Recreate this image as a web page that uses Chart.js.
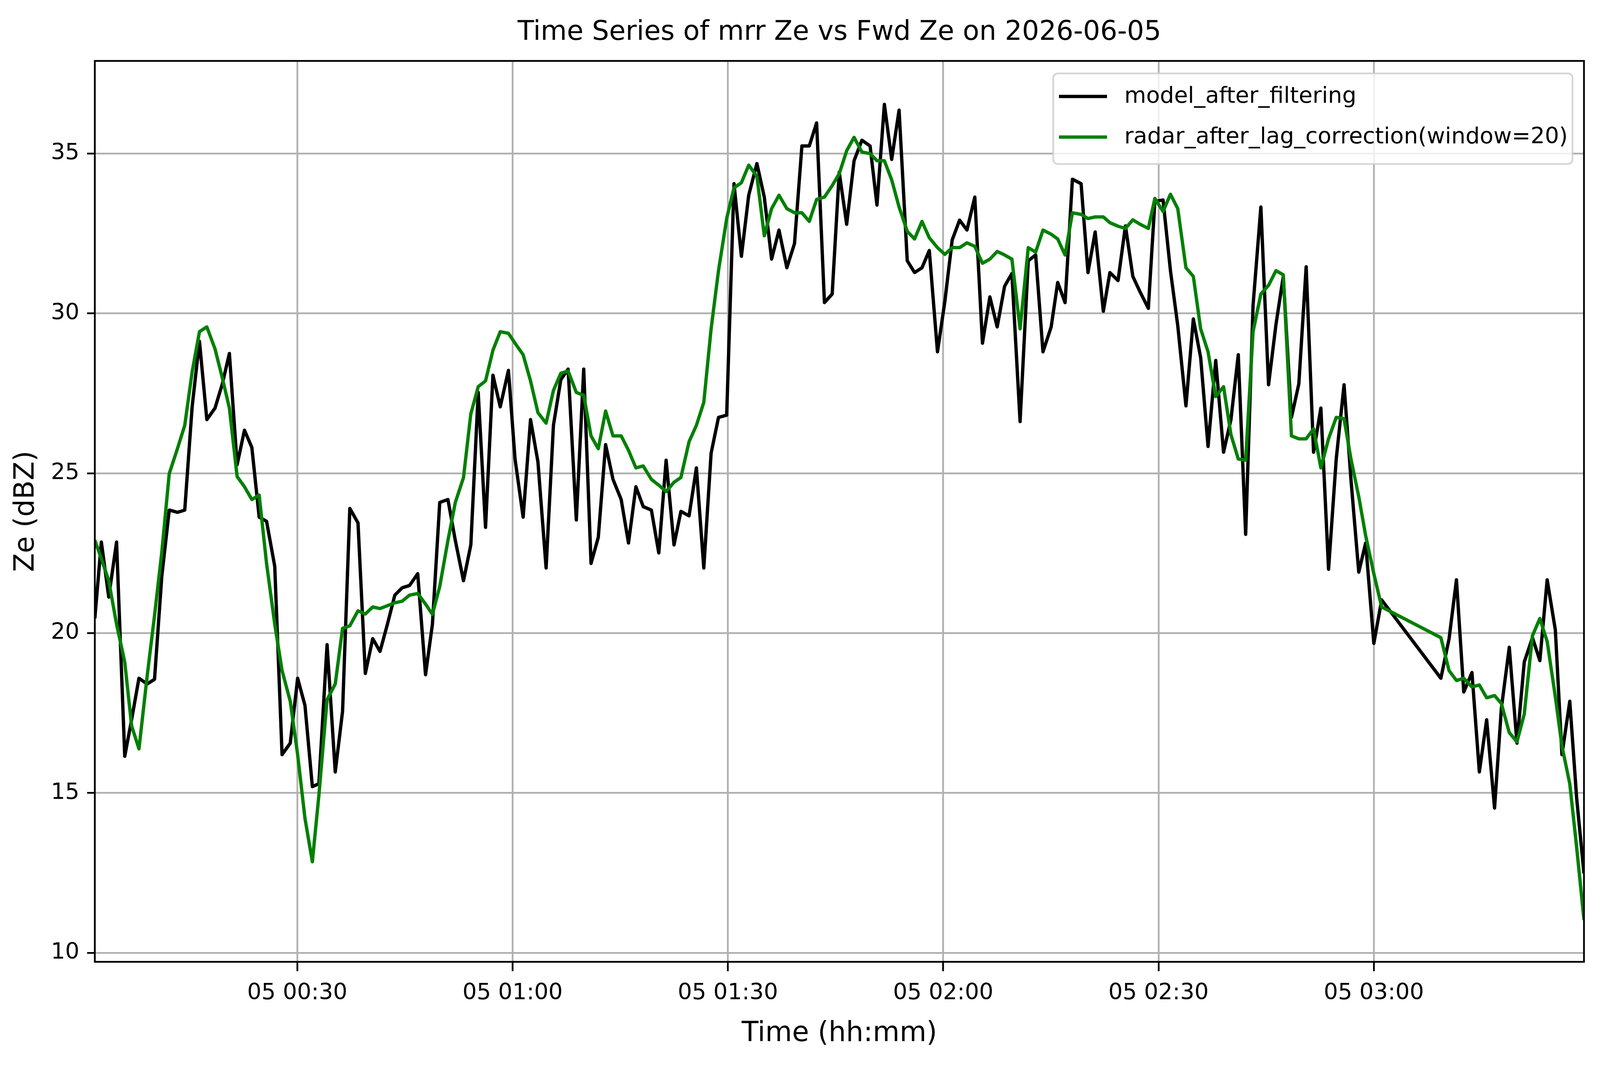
<!DOCTYPE html>
<html>
<head>
<meta charset="utf-8">
<title>Time Series of mrr Ze vs Fwd Ze</title>
<script src="https://cdn.jsdelivr.net/npm/chart.js@4.4.1/dist/chart.umd.min.js"></script>
<style>
  html, body { margin: 0; padding: 0; background: #ffffff; overflow: hidden; }
  canvas { display: block; }
</style>
</head>
<body>
<canvas id="zeChart"></canvas>
<script>
// time axis: minutes after 00:00 on 2026-06-05 (gap around 03:01-03:09 is in the data)
const timeMinutes = [
  1.79, 2.70, 3.73, 4.82, 5.96, 6.92, 7.94, 9.08, 10.11, 11.13, 12.16, 13.30, 14.32, 15.35, 16.37, 17.40, 18.54,
  19.56, 20.54, 21.62, 22.64, 23.67, 24.69, 25.72, 26.86, 27.88, 29.02, 30.05, 31.07, 32.10, 33.01, 34.15, 35.29, 36.31,
  37.32, 38.46, 39.48, 40.51, 41.53, 42.56, 43.59, 44.61, 45.64, 46.78, 47.87, 48.83, 49.85, 50.99, 52.02, 53.16, 54.18,
  55.21, 56.23, 57.26, 58.28, 59.42, 60.34, 61.47, 62.50, 63.53, 64.67, 65.69, 66.72, 67.74, 68.88, 69.91, 70.93,
  71.94, 72.96, 73.99, 75.13, 76.15, 77.18, 78.20, 79.34, 80.37, 81.39, 82.49, 83.45, 84.59, 85.61, 86.64, 87.66, 88.69,
  89.83, 90.85, 91.88, 92.90, 94.04, 95.07, 96.09, 97.12, 98.21, 99.28, 100.31, 101.34, 102.36, 103.45, 104.53, 105.51,
  106.55, 107.58, 108.67, 109.81, 110.77, 111.80, 112.82, 113.85, 114.99, 116.01, 117.04, 118.06, 119.20, 120.23,
  121.25, 122.28, 123.31, 124.40, 125.47, 126.50, 127.52, 128.55, 129.57, 130.71, 131.85, 132.88, 133.90, 135.04,
  135.95, 136.98, 138.00, 139.21, 140.17,
  141.17, 142.31, 143.22, 144.36, 145.39, 146.42, 147.44, 148.58, 149.49, 150.63, 151.66, 152.68, 153.82, 154.85,
  155.87, 156.90, 157.97, 159.06, 160.09, 161.11, 162.14, 163.17, 164.26, 165.33, 166.36, 167.38, 168.52, 169.55,
  170.57, 171.60, 172.62, 173.69,
  174.76, 175.85, 176.81, 177.90, 178.86, 180.00, 181.09, 189.34, 190.48, 191.51, 192.53, 193.67, 194.70, 195.72,
  196.82, 197.77, 198.87, 199.94, 200.96, 202.10, 203.13, 204.15, 205.29, 206.21, 207.30, 208.26, 209.28
];

const modelAfterFiltering = [
  20.46, 22.85, 21.13, 22.85, 16.15, 17.3, 18.59, 18.41, 18.56, 21.8, 23.85, 23.78, 23.85, 27.08, 29.13, 26.68, 27.04,
  27.8, 28.75, 25.27, 26.35, 25.81, 23.63, 23.5, 22.09, 16.2, 16.56, 18.59, 17.74, 15.2, 15.29, 19.64, 15.66, 17.56,
  23.9, 23.45, 18.74, 19.83, 19.43, 20.28, 21.19, 21.42, 21.49, 21.86, 18.7, 20.28, 24.09, 24.18, 22.9, 21.64, 22.76,
  27.53, 23.31, 28.07, 27.08, 28.22, 25.45, 23.63, 26.68, 25.36, 22.04, 26.5, 27.93, 28.26, 23.54, 28.26, 22.18,
  23.0, 25.9, 24.81, 24.18, 22.82, 24.58, 23.96, 23.85, 22.51, 25.41, 22.76, 23.81, 23.67, 25.17, 22.04, 25.63, 26.75,
  26.82, 34.06, 31.79, 33.7, 34.69, 33.64, 31.70, 32.61, 31.43, 32.19, 35.24, 35.24, 35.96, 30.34, 30.61, 34.42,
  32.79, 34.78, 35.42, 35.24, 33.39, 36.54, 34.82, 36.36, 31.65, 31.28, 31.43, 31.97, 28.8, 30.38,
  32.3, 32.92, 32.61, 33.64, 29.07, 30.52, 29.58, 30.85, 31.25, 26.62, 31.65, 31.83, 28.8, 29.58,
  30.97, 30.34, 34.2, 34.06, 31.28,
  32.55, 30.07, 31.28, 31.03, 32.74, 31.16, 30.67, 30.16, 33.51, 33.55, 31.34, 29.62, 27.11, 29.83,
  28.62, 25.84, 28.53, 25.66, 26.68, 28.71, 23.09, 30.25, 33.33, 27.77, 29.65, 31.16, 26.75, 27.8,
  31.46, 25.66, 27.04, 22.0,
  25.45, 27.77, 24.81, 21.91, 22.82, 19.68, 21.04, 18.59, 19.82, 21.67, 18.16, 18.77, 15.66, 17.29,
  14.53, 17.65, 19.56, 16.56, 19.1, 19.86, 19.14, 21.67, 20.1, 16.2, 17.87, 14.84, 12.48
];

const radarAfterLagCorrection = [
  22.91, 22.33, 21.64, 20.28, 19.1, 17.1, 16.38, 18.65, 20.55, 22.55, 24.99, 25.77, 26.5, 28.17, 29.43, 29.58, 28.89,
  27.98, 27.04, 24.9, 24.58, 24.18, 24.32, 22.18, 20.28, 18.83, 17.87, 16.2, 14.21, 12.85, 14.93, 17.92, 18.41, 20.15,
  20.23, 20.7, 20.6, 20.82, 20.77, 20.86, 20.95, 21.0, 21.19, 21.24, 20.91, 20.59, 21.46, 22.9, 24.09, 24.87, 26.86,
  27.71, 27.89, 28.85, 29.43, 29.38, 29.07, 28.71, 27.89, 26.9, 26.57, 27.59, 28.13, 28.2, 27.53, 27.44, 26.17,
  25.77, 26.95, 26.17, 26.17, 25.72, 25.17, 25.23, 24.81, 24.63, 24.43, 24.72, 24.87, 25.99, 26.5, 27.22, 29.52, 31.34,
  32.97, 33.93, 34.09, 34.64, 34.29, 32.43, 33.28, 33.7, 33.28, 33.15, 33.15, 32.88, 33.57, 33.64, 34.0, 34.37,
  35.09, 35.51, 35.05, 35.0, 34.78, 34.78, 34.18, 33.33, 32.57, 32.33, 32.88, 32.37, 32.06, 31.85,
  32.06, 32.06, 32.21, 32.1, 31.57, 31.7, 31.94, 31.83, 31.7, 29.52, 32.06, 31.92, 32.61, 32.48,
  32.33, 31.83, 33.15, 33.1, 32.97,
  33.02, 33.02, 32.84, 32.73, 32.66, 32.93, 32.79, 32.66, 33.6, 33.19, 33.73, 33.28, 31.43, 31.16,
  29.52, 28.8, 27.4, 27.71, 26.21, 25.45, 25.41, 29.43, 30.61, 30.88, 31.34, 31.21, 26.17, 26.08,
  26.08, 26.39, 25.17, 26.08,
  26.75, 26.71, 25.45, 24.27, 23.05, 21.86, 20.82, 19.86, 18.83, 18.52, 18.59, 18.32, 18.38, 17.98,
  18.05, 17.8, 16.89, 16.6, 17.47, 19.92, 20.46, 19.74, 18.01, 16.47, 15.29, 13.3, 11.03
];

const xTickMinutes = [30, 60, 90, 120, 150, 180];
const xTickLabels = ['05 00:30', '05 01:00', '05 01:30', '05 02:00', '05 02:30', '05 03:00'];
const yTicks = [10, 15, 20, 25, 30, 35];
const seriesNames = ['model_after_filtering', 'radar_after_lag_correction(window=20)'];
const seriesColors = ['#000000', '#008000'];
const chartTitle = 'Time Series of mrr Ze vs Fwd Ze on 2026-06-05';

// laid out on a 4995 x 2740 design, stretched to fill whatever viewport we get
const W = window.innerWidth, H = window.innerHeight;
const SX = W / 4995, SY = H / 2740;
const px = (v) => v * SX;   // horizontal sizes, fonts, line widths
const py = (v) => v * SY;   // vertical positions

const FONT = 'DejaVu Sans';
const LINE_W = px(10.4);
const THIN = px(5.5);
const TICK_SIZE = px(70);
const LABEL_SIZE = px(86);

function toPoints(values) {
  return timeMinutes.map((t, i) => ({ x: t, y: values[i] }));
}

// box around the axes, drawn over the lines like matplotlib spines
const framePlugin = {
  id: 'frame',
  afterDatasetsDraw(chart) {
    const { ctx, chartArea: a } = chart;
    ctx.save();
    ctx.strokeStyle = '#000000';
    ctx.lineWidth = THIN;
    ctx.strokeRect(a.left, a.top, a.right - a.left, a.bottom - a.top);
    ctx.restore();
  }
};

const titleLegendPlugin = {
  id: 'titleLegend',
  afterDraw(chart) {
    const { ctx, chartArea: a } = chart;
    ctx.save();
    // title, centred over the axes
    ctx.fillStyle = '#000000';
    ctx.font = px(84) + 'px "' + FONT + '"';
    ctx.textAlign = 'center';
    ctx.textBaseline = 'middle';
    ctx.fillText(chartTitle, (a.left + a.right) / 2, py(84));

    // legend box in the upper right corner
    const bx = px(3288), by = py(188), bw = px(1621), bh = py(232), r = px(14);
    ctx.beginPath();
    ctx.moveTo(bx + r, by);
    ctx.lineTo(bx + bw - r, by);
    ctx.arcTo(bx + bw, by, bx + bw, by + r, r);
    ctx.lineTo(bx + bw, by + bh - r);
    ctx.arcTo(bx + bw, by + bh, bx + bw - r, by + bh, r);
    ctx.lineTo(bx + r, by + bh);
    ctx.arcTo(bx, by + bh, bx, by + bh - r, r);
    ctx.lineTo(bx, by + r);
    ctx.arcTo(bx, by, bx + r, by, r);
    ctx.closePath();
    ctx.fillStyle = 'rgba(255,255,255,0.8)';
    ctx.fill();
    ctx.strokeStyle = 'rgba(204,204,204,0.8)';
    ctx.lineWidth = THIN;
    ctx.stroke();

    const rowY = [248, 352];
    ctx.font = TICK_SIZE + 'px "' + FONT + '"';
    ctx.textAlign = 'left';
    seriesNames.forEach((name, i) => {
      ctx.strokeStyle = seriesColors[i];
      ctx.lineWidth = LINE_W;
      ctx.beginPath();
      ctx.moveTo(px(3306), py(rowY[i] - 1));
      ctx.lineTo(px(3456), py(rowY[i] - 1));
      ctx.stroke();
      ctx.fillStyle = '#000000';
      ctx.fillText(name, px(3510), py(rowY[i]));
    });
    ctx.restore();
  }
};

const tickFont = { family: FONT, size: TICK_SIZE, lineHeight: 1.2 };
const labelFont = { family: FONT, size: LABEL_SIZE, lineHeight: 1.2 };

const canvas = document.getElementById('zeChart');
canvas.width = W;
canvas.height = H;

new Chart(canvas, {
  type: 'line',
  data: {
    datasets: [
      {
        label: seriesNames[0],
        data: toPoints(modelAfterFiltering),
        borderColor: seriesColors[0],
        borderWidth: LINE_W,
        pointRadius: 0,
        tension: 0,
        fill: false,
        borderJoinStyle: 'round',
        clip: 0,
        order: 2
      },
      {
        label: seriesNames[1],
        data: toPoints(radarAfterLagCorrection),
        borderColor: seriesColors[1],
        borderWidth: LINE_W,
        pointRadius: 0,
        tension: 0,
        fill: false,
        borderJoinStyle: 'round',
        clip: 0,
        order: 1
      }
    ]
  },
  options: {
    responsive: false,
    animation: false,
    devicePixelRatio: window.devicePixelRatio || 1,
    layout: { padding: { top: py(156), right: px(50), left: 0, bottom: 0 } },
    plugins: {
      legend: { display: false },
      title: { display: false },
      tooltip: { enabled: false }
    },
    scales: {
      x: {
        type: 'linear',
        min: timeMinutes[0],
        max: timeMinutes[timeMinutes.length - 1],
        afterBuildTicks: (scale) => { scale.ticks = xTickMinutes.map(v => ({ value: v })); },
        afterFit: (scale) => { scale.height = H - py(2463); },
        ticks: {
          font: tickFont,
          color: '#000000',
          padding: py(2544 - 2463 - 24) - TICK_SIZE * 0.6,
          maxRotation: 0,
          autoSkip: false,
          callback: (value, index) => xTickLabels[index]
        },
        grid: { color: '#b0b0b0', lineWidth: THIN, tickLength: py(24), tickColor: '#000000', tickWidth: THIN },
        border: { display: false },
        title: {
          display: true, text: 'Time (hh:mm)', font: labelFont, color: '#000000',
          padding: { top: 0, bottom: H - py(2648) - LABEL_SIZE * 0.6 }
        }
      },
      y: {
        type: 'linear',
        min: 9.72,
        max: 37.9,
        afterBuildTicks: (scale) => { scale.ticks = yTicks.map(v => ({ value: v })); },
        afterFit: (scale) => { scale.width = px(296); },
        ticks: {
          font: tickFont,
          color: '#000000',
          padding: px(24),
          autoSkip: false,
          callback: (value) => String(value)
        },
        grid: { color: '#b0b0b0', lineWidth: THIN, tickLength: px(24), tickColor: '#000000', tickWidth: THIN },
        border: { display: false },
        title: {
          display: true, text: 'Ze (dBZ)', font: labelFont, color: '#000000',
          padding: { top: px(83) - LABEL_SIZE * 0.6, bottom: 0 }
        }
      }
    }
  },
  plugins: [framePlugin, titleLegendPlugin]
});
</script>
</body>
</html>
